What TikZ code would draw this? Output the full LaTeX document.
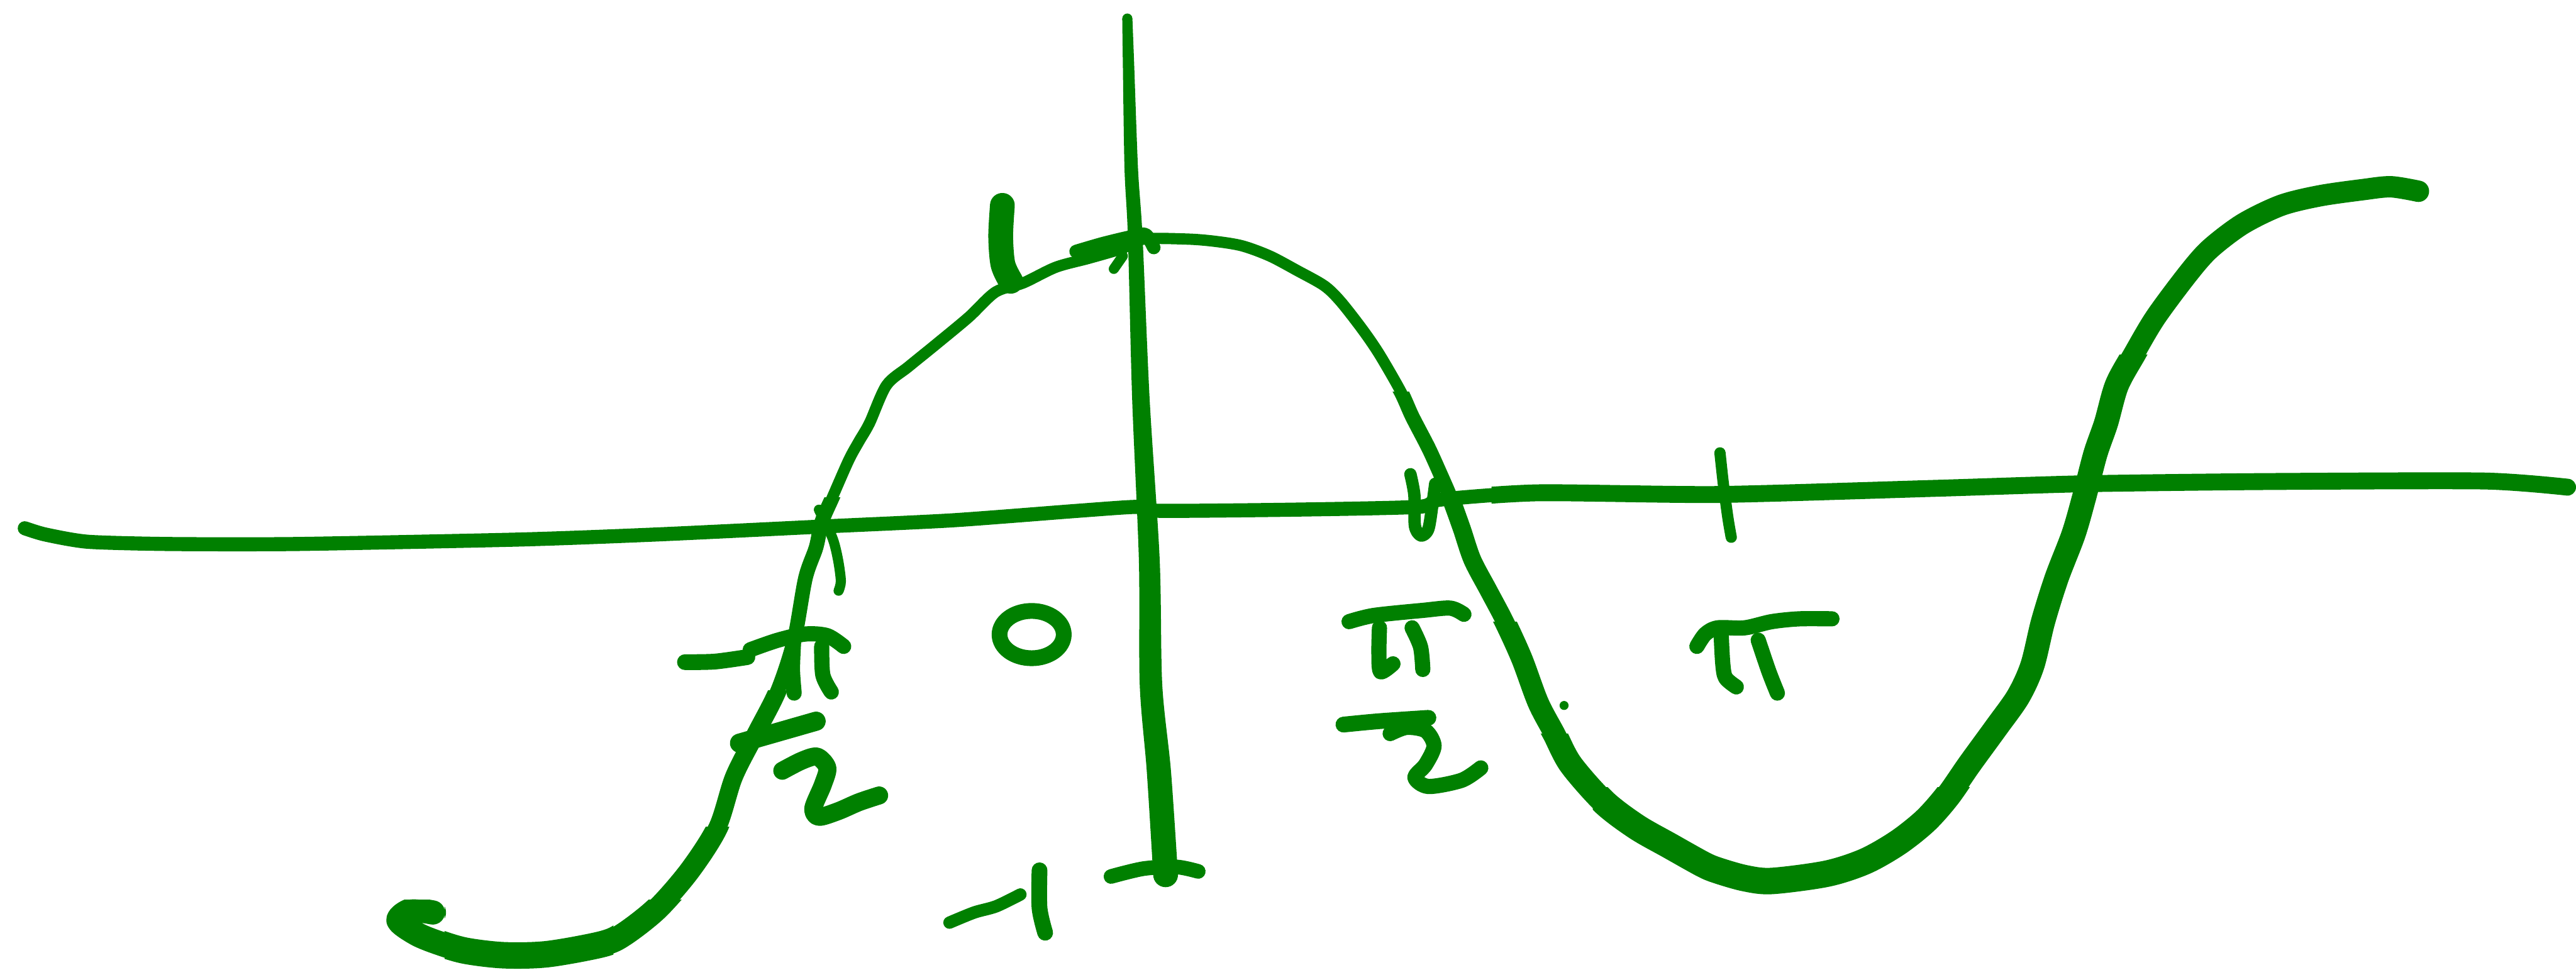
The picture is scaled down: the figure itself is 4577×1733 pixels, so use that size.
\documentclass[tikz,border=0pt]{standalone}
\definecolor{pen}{RGB}{0,128,0}
\tikzset{stroke/.style={draw=pen, line cap=round, line join=round, line width=#1*0.2845pt}}
\newcommand\sinepath{plot[smooth, tension=0.5] coordinates {(769,1622) (730,1618) (708,1636) (740,1660) (779,1676) (827,1690) (895,1698) (973,1696) (1071,1678) (1110,1660) (1168,1614) (1226,1547) (1275,1470) (1304,1381) (1343,1304) (1382,1227) (1411,1138) (1431,1028) (1450,973) (1460,928) (1479,884) (1508,818) (1526,785) (1545,752) (1575,685) (1614,652) (1662,613) (1721,564) (1769,519) (1818,503) (1876,475) (1935,459) (1993,442) (2032,425) (2110,425) (2159,429) (2207,437) (2256,455) (2305,481) (2353,508) (2382,536) (2421,586) (2451,630) (2489,696) (2509,740) (2538,796) (2558,840) (2577,884) (2597,939) (2616,995) (2645,1050) (2674,1105) (2704,1171) (2733,1249) (2762,1304) (2791,1359) (2850,1426) (2908,1470) (2966,1503) (3025,1536) (3051,1547) (3100,1561) (3148,1566) (3246,1553) (3314,1531) (3372,1498) (3421,1459) (3460,1415) (3499,1359) (3547,1293) (3586,1238) (3611,1183) (3630,1105) (3654,1028) (3684,950) (3703,884) (3723,807) (3742,752) (3761,685) (3791,630) (3830,564) (3888,486) (3927,442) (3985,398) (4053,365) (4122,348) (4199,337) (4248,332) (4297,340)}}
\newcommand\xaxispath{plot[smooth, tension=0.4] coordinates {(44,939) (80,950) (156,963) (300,967) (526,967) (925,959) (1168,950) (1460,936) (1691,925) (1915,908) (2020,901) (2060,908) (2295,906) (2520,901) (2560,888) (2733,876) (3052,879) (3440,868) (3700,860) (4024,856) (4413,855) (4562,866)}}
\begin{document}
\begin{tikzpicture}[x=0.01cm, y=-0.01cm]
\useasboundingbox (0,0) rectangle (4577,1733);
\fill[white] (0,0) rectangle (4577,1733);
% x-axis
\draw[stroke=25] \xaxispath;
\begin{scope}
\clip (2650,0) rectangle (4577,1733);
\draw[stroke=30] \xaxispath;
\end{scope}
% y-axis (tapered)
\fill[pen] plot[smooth] coordinates {(1994,33) (1995,110) (1998,300) (2004,420) (2011.5,707) (2023.5,995) (2025,1216) (2037.5,1370) (2049,1555)} -- plot[smooth] coordinates {(2093,1555) (2080.5,1370) (2065,1216) (2060.5,995) (2042.5,707) (2030,420) (2022,300) (2015,110) (2012,33)} -- cycle;
\fill[pen] (2003,33) circle [radius=0.09cm];
\fill[pen] (2071,1555) circle [radius=0.22cm];
% ticks on y-axis
\draw[stroke=24] plot[smooth] coordinates {(1912,447) (1960,433) (2010,421) (2035,417) (2050,440)};
\draw[stroke=18] (1979,478) -- (1995,455);
\draw[stroke=26] plot[smooth] coordinates {(1974,1558) (2032,1544) (2090,1541) (2129,1549)};
% ticks on x-axis
\draw[stroke=18] plot[smooth] coordinates {(1455,906) (1479,956) (1489,995) (1494,1033) (1490,1050)};
\draw[stroke=22] plot[smooth] coordinates {(2506,843) (2513,880) (2514,935) (2525,952) (2538,940) (2546,890) (2550,860)};
\draw[stroke=20] plot[smooth] coordinates {(3056,805) (3062,860) (3070,920) (3076,955)};
% sine curve: one path, thickened in clipped parts
\draw[stroke=20] \sinepath;
\begin{scope}
\clip (0,884) rectangle (1700,1733);
\draw[stroke=26] \sinepath;
\end{scope}
\begin{scope}
\clip (2300,696) -- (2650,696) -- (2650,0) -- (4577,0) -- (4577,1733) -- (2300,1733) -- cycle;
\draw[stroke=26] \sinepath;
\end{scope}
\begin{scope}
\clip (0,1227) rectangle (1700,1733);
\draw[stroke=32] \sinepath;
\end{scope}
\begin{scope}
\clip (2300,884) -- (2700,884) -- (2700,0) -- (4577,0) -- (4577,1733) -- (2300,1733) -- cycle;
\draw[stroke=32] \sinepath;
\end{scope}
\begin{scope}
\clip (0,1470) rectangle (1700,1733);
\draw[stroke=38] \sinepath;
\end{scope}
\begin{scope}
\clip (2400,1105) -- (2800,1105) -- (2800,0) -- (4577,0) -- (4577,1733) -- (2400,1733) -- cycle;
\draw[stroke=38] \sinepath;
\end{scope}
\begin{scope}
\clip (0,1600) rectangle (1700,1733);
\draw[stroke=43] \sinepath;
\end{scope}
\begin{scope}
\clip (2500,1304) -- (3200,1304) -- (3200,630) -- (4577,630) -- (4577,1733) -- (2500,1733) -- cycle;
\draw[stroke=43] \sinepath;
\end{scope}
\begin{scope}
\clip (790,1600) rectangle (1090,1733);
\draw[stroke=47] \sinepath;
\end{scope}
\begin{scope}
\clip (2830,1400) rectangle (3600,1733);
\draw[stroke=47] \sinepath;
\end{scope}
% label 1
\draw[stroke=44] plot[smooth] coordinates {(1781,365) (1778,420) (1782,470) (1796,500)};
% label -1
\draw[stroke=22] plot[smooth] coordinates {(1687,1640) (1731,1622) (1770,1611) (1813,1590)};
\draw[stroke=28] plot[smooth] coordinates {(1847,1547) (1847,1614) (1857,1658)};
% label -pi/2
\draw[stroke=28] plot[smooth] coordinates {(1217,1177) (1270,1176) (1328,1168)};
\draw[stroke=27] plot[smooth] coordinates {(1333,1155) (1382,1138) (1431,1127) (1470,1130) (1499,1149)};
\draw[stroke=27] plot[smooth] coordinates {(1410,1140) (1408,1190) (1411,1232)};
\draw[stroke=27] plot[smooth] coordinates {(1460,1149) (1462,1200) (1477,1230)};
\draw[stroke=34] (1314,1321) -- (1450,1282);
\draw[stroke=32] plot[smooth] coordinates {(1390,1370) (1425,1352) (1452,1345) (1470,1365) (1462,1395) (1445,1437) (1455,1452) (1489,1442) (1526,1426) (1562,1414)};
% label 0
\draw[stroke=28] (1833,1128) ellipse [x radius=0.57cm, y radius=0.42cm];
% label pi/2
\draw[stroke=27] plot[smooth] coordinates {(2397,1105) (2441,1094) (2528,1085) (2577,1081) (2601,1092)};
\draw[stroke=27] plot[smooth] coordinates {(2451,1116) (2450,1160) (2453,1194) (2475,1180)};
\draw[stroke=27] plot[smooth] coordinates {(2509,1116) (2524,1150) (2528,1190)};
\draw[stroke=28] plot[smooth] coordinates {(2387,1288) (2450,1282) (2538,1276)};
\draw[stroke=27] plot[smooth] coordinates {(2470,1304) (2499,1293) (2533,1299) (2548,1326) (2533,1359) (2514,1382) (2538,1398) (2597,1387) (2631,1365)};
% dot
\fill[pen] (2779,1254) circle [radius=0.08cm];
% label pi
\draw[stroke=27] plot[smooth] coordinates {(3015,1149) (3030,1127) (3052,1116) (3100,1116) (3148,1105) (3197,1100) (3255,1100)};
\draw[stroke=27] plot[smooth] coordinates {(3058,1125) (3061,1180) (3066,1205) (3085,1221)};
\draw[stroke=27] plot[smooth] coordinates {(3124,1138) (3143,1194) (3158,1232)};
\end{tikzpicture}
\end{document}
